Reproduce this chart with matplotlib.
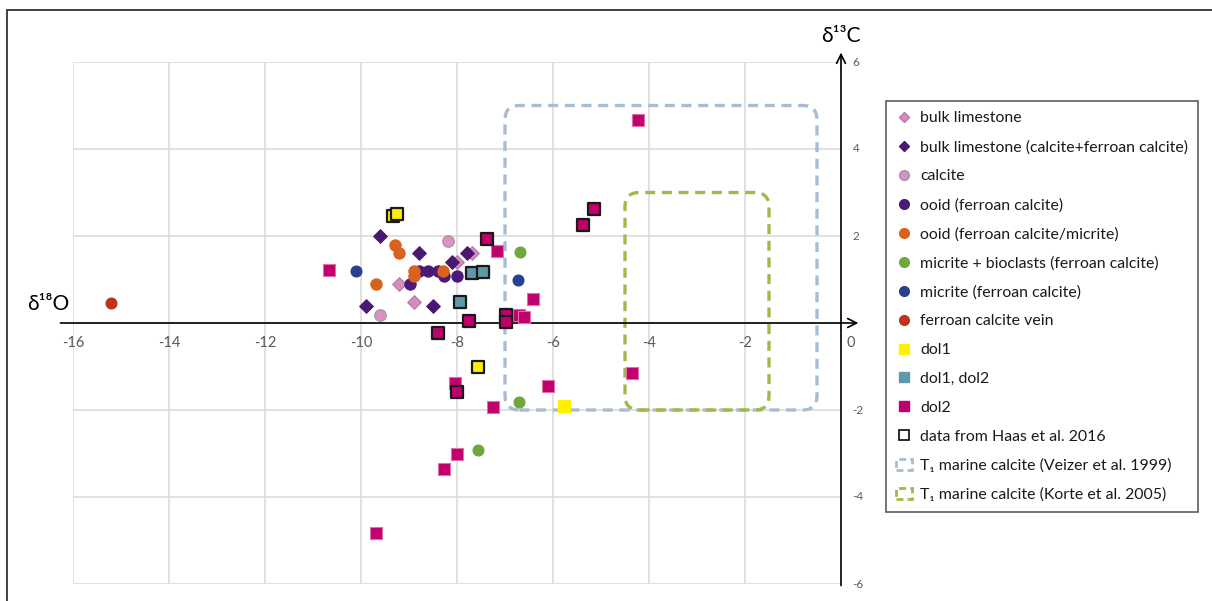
import matplotlib
matplotlib.use("Agg")
import matplotlib.pyplot as plt
from matplotlib.lines import Line2D
from matplotlib.patches import FancyBboxPatch, Rectangle
import matplotlib.patches as mpatches

plt.rcParams['font.family'] = ['Lato', 'DejaVu Sans']

# ---------------- data ----------------
bulk_x = [-7.69, -7.99, -9.20, -8.89]
bulk_y = [1.60, 1.41, 0.89, 0.49]

bulkfe_x = [-9.60, -8.80, -7.80, -8.10, -9.89, -8.49]
bulkfe_y = [2.00, 1.60, 1.60, 1.41, 0.39, 0.39]

calcite_x = [-8.19, -9.60]
calcite_y = [1.89, 0.18]

ooid_x = [-8.79, -8.60, -8.39, -8.28, -7.99, -8.98]
ooid_y = [1.20, 1.20, 1.20, 1.08, 1.08, 0.89]

ooidmic_x = [-9.29, -9.20, -8.89, -8.89, -8.30, -9.69]
ooidmic_y = [1.79, 1.60, 1.20, 1.08, 1.20, 0.89]

micbio_x = [-6.69, -6.70, -7.57]
micbio_y = [1.64, -1.82, -2.93]

micrite_x = [-10.11, -6.72]
micrite_y = [1.20, 1.00]

vein_x = [-15.21]
vein_y = [0.46]

dol1_x = [-9.33, -9.24, -7.56, -5.78]
dol1_y = [2.46, 2.50, -1.00, -1.91]
dol1_haas = [True, True, True, False]

dol12_x = [-7.69, -7.46, -7.94]
dol12_y = [1.16, 1.18, 0.49]
dol12_haas = [True, True, True]

dol2_x = [-7.37, -7.17, -10.66, -6.41, -7.76, -6.97, -6.98, -8.40, -6.70, -6.61,
          -8.04, -8.00, -6.11, -7.24, -8.00, -8.28, -9.69, -4.23, -4.35, -5.15, -5.37]
dol2_y = [1.92, 1.66, 1.22, 0.56, 0.05, 0.18, 0.02, -0.22, 0.18, 0.13,
          -1.37, -1.58, -1.44, -1.94, -3.01, -3.36, -4.83, 4.67, -1.15, 2.61, 2.25]
dol2_haas = [True, False, False, False, True, True, True, True, False, False,
             False, True, False, False, False, False, False, False, False, True, True]

# marine calcite fields: (xmin, xmax, ymin, ymax)
veizer_box = (-7.0, -0.5, -2.0, 5.0)
korte_box = (-4.5, -1.5, -2.0, 3.0)

x_ticks = [-16, -14, -12, -10, -8, -6, -4, -2, 0]
y_ticks = [-6, -4, -2, 2, 4, 6]

# ---------------- style ----------------
c_bulk = '#d48cc2'
c_bulkfe = '#4a1870'
c_calcite = '#de90c6'
c_ooid = '#4a1a78'
c_ooidmic = '#d9621e'
c_micbio = '#6ea83c'
c_micrite = '#27418c'
c_vein = '#c2311b'
c_dol1 = '#fff000'
c_dol12 = '#5f99a8'
c_dol2 = '#c0006c'
c_veizer = '#a8bcd2'
c_korte = '#9fb94c'

fig = plt.figure(figsize=(12.12, 6.01), dpi=100)
ax = fig.add_axes([73/1212, 1-584/601, (841-73)/1212, (584-62)/601])
ax.set_xlim(-16, 0)
ax.set_ylim(-6, 6)
for s in ax.spines.values():
    s.set_visible(False)
ax.set_xticks(x_ticks)
ax.set_yticks([-6, -4, -2, 0, 2, 4, 6])
ax.tick_params(length=0, labelbottom=False, labelleft=False)
ax.grid(True, color='#d9d9d9', lw=1.1)
ax.set_axisbelow(True)

# figure frame
fig.patches.append(Rectangle((7/1212, -0.1), 1.2, 1.1 - 10/601, transform=fig.transFigure,
                             fill=False, ec='#333333', lw=1.3, zorder=0))

# axes lines with arrows
ax.annotate('', xy=(0.42, 0), xytext=(-16.32, 0), xycoords='data',
            arrowprops=dict(arrowstyle='->', color='black', lw=1.2, mutation_scale=16),
            annotation_clip=False, zorder=3)
ax.annotate('', xy=(0, 6.28), xytext=(0, -6.1), xycoords='data',
            arrowprops=dict(arrowstyle='->', color='black', lw=1.2, mutation_scale=16),
            annotation_clip=False, zorder=3)

# tick labels
for t in x_ticks:
    xx = t if t != 0 else 0.2
    ax.text(xx, -0.3, str(t), ha='center', va='top', fontsize=10.5, color='#595959', clip_on=False)
for t in y_ticks:
    ax.text(0.24, t, str(t), ha='left', va='center', fontsize=8.5, color='#595959', clip_on=False)

ax.text(-16.08, 0.2, 'δ¹⁸O', ha='right', va='bottom', fontsize=15, color='black', clip_on=False)
ax.text(0.0, 6.36, 'δ¹³C', ha='center', va='bottom', fontsize=15, color='black', clip_on=False)

# marine calcite boxes
for (x0, x1, y0, y1), col in [(veizer_box, c_veizer), (korte_box, c_korte)]:
    p = FancyBboxPatch((x0, y0), x1 - x0, y1 - y0,
                       boxstyle='round,pad=0,rounding_size=0.3', mutation_aspect=48/43.5,
                       fill=False, ec=col, lw=2.4, ls=(0, (3, 2)), zorder=2)
    ax.add_patch(p)

# scatter series
def plot_series(x, y, marker, fc, ec, size, haas=None, z=4):
    ax.scatter(x, y, marker=marker, s=size, c=fc, edgecolors=ec, linewidths=0.8, zorder=z)
    if haas is not None:
        hx = [a for a, h in zip(x, haas) if h]
        hy = [b for b, h in zip(y, haas) if h]
        ax.scatter(hx, hy, marker=marker, s=size, c=fc, edgecolors='#1a1a1a', linewidths=1.6, zorder=z + 1)

plot_series(bulk_x, bulk_y, 'D', c_bulk, '#b27aa5', 48)
plot_series(bulkfe_x, bulkfe_y, 'D', c_bulkfe, c_bulkfe, 48)
plot_series(calcite_x, calcite_y, 'o', c_calcite, '#999999', 70)
plot_series(ooid_x, ooid_y, 'o', c_ooid, c_ooid, 66)
plot_series(ooidmic_x, ooidmic_y, 'o', c_ooidmic, c_ooidmic, 66)
plot_series(micbio_x, micbio_y, 'o', c_micbio, c_micbio, 62)
plot_series(micrite_x, micrite_y, 'o', c_micrite, c_micrite, 62)
plot_series(vein_x, vein_y, 'o', c_vein, c_vein, 62)
plot_series(dol1_x, dol1_y, 's', c_dol1, c_dol1, 78, dol1_haas)
plot_series(dol12_x, dol12_y, 's', c_dol12, c_dol12, 78, dol12_haas)
plot_series(dol2_x, dol2_y, 's', c_dol2, '#e070a8', 78, dol2_haas)

# legend
h = [
    Line2D([], [], ls='none', marker='D', ms=5.5, mfc=c_bulk, mec='#b27aa5', label='bulk limestone'),
    Line2D([], [], ls='none', marker='D', ms=5.5, mfc=c_bulkfe, mec=c_bulkfe, label='bulk limestone (calcite+ferroan calcite)'),
    Line2D([], [], ls='none', marker='o', ms=7, mfc=c_calcite, mec='#999999', label='calcite'),
    Line2D([], [], ls='none', marker='o', ms=7, mfc=c_ooid, mec=c_ooid, label='ooid (ferroan calcite)'),
    Line2D([], [], ls='none', marker='o', ms=7, mfc=c_ooidmic, mec=c_ooidmic, label='ooid (ferroan calcite/micrite)'),
    Line2D([], [], ls='none', marker='o', ms=7, mfc=c_micbio, mec=c_micbio, label='micrite + bioclasts (ferroan calcite)'),
    Line2D([], [], ls='none', marker='o', ms=7, mfc=c_micrite, mec=c_micrite, label='micrite (ferroan calcite)'),
    Line2D([], [], ls='none', marker='o', ms=7, mfc=c_vein, mec=c_vein, label='ferroan calcite vein'),
    Line2D([], [], ls='none', marker='s', ms=7, mfc=c_dol1, mec=c_dol1, label='dol1'),
    Line2D([], [], ls='none', marker='s', ms=7, mfc=c_dol12, mec=c_dol12, label='dol1, dol2'),
    Line2D([], [], ls='none', marker='s', ms=7, mfc=c_dol2, mec=c_dol2, label='dol2'),
    Line2D([], [], ls='none', marker='s', ms=7, mfc='white', mec='#1a1a1a', mew=1.3, label='data from Haas et al. 2016'),
    mpatches.Patch(fc='none', ec=c_veizer, lw=2, ls=(0, (2.5, 1.5)), label='T₁ marine calcite (Veizer et al. 1999)'),
    mpatches.Patch(fc='none', ec=c_korte, lw=2, ls=(0, (2.5, 1.5)), label='T₁ marine calcite (Korte et al. 2005)'),
]
leg = fig.legend(handles=h, loc='upper left', bbox_to_anchor=(886/1212, 1-101/601),
                 frameon=True, fancybox=False, edgecolor='#333333', fontsize=11.4,
                 labelspacing=0.93, handlelength=1.0, handletextpad=0.5,
                 borderpad=0.65, borderaxespad=0)
leg.get_frame().set_linewidth(1.2)
for t in leg.get_texts():
    t.set_color('#1a1a1a')

fig.savefig('out.png', dpi=100)
